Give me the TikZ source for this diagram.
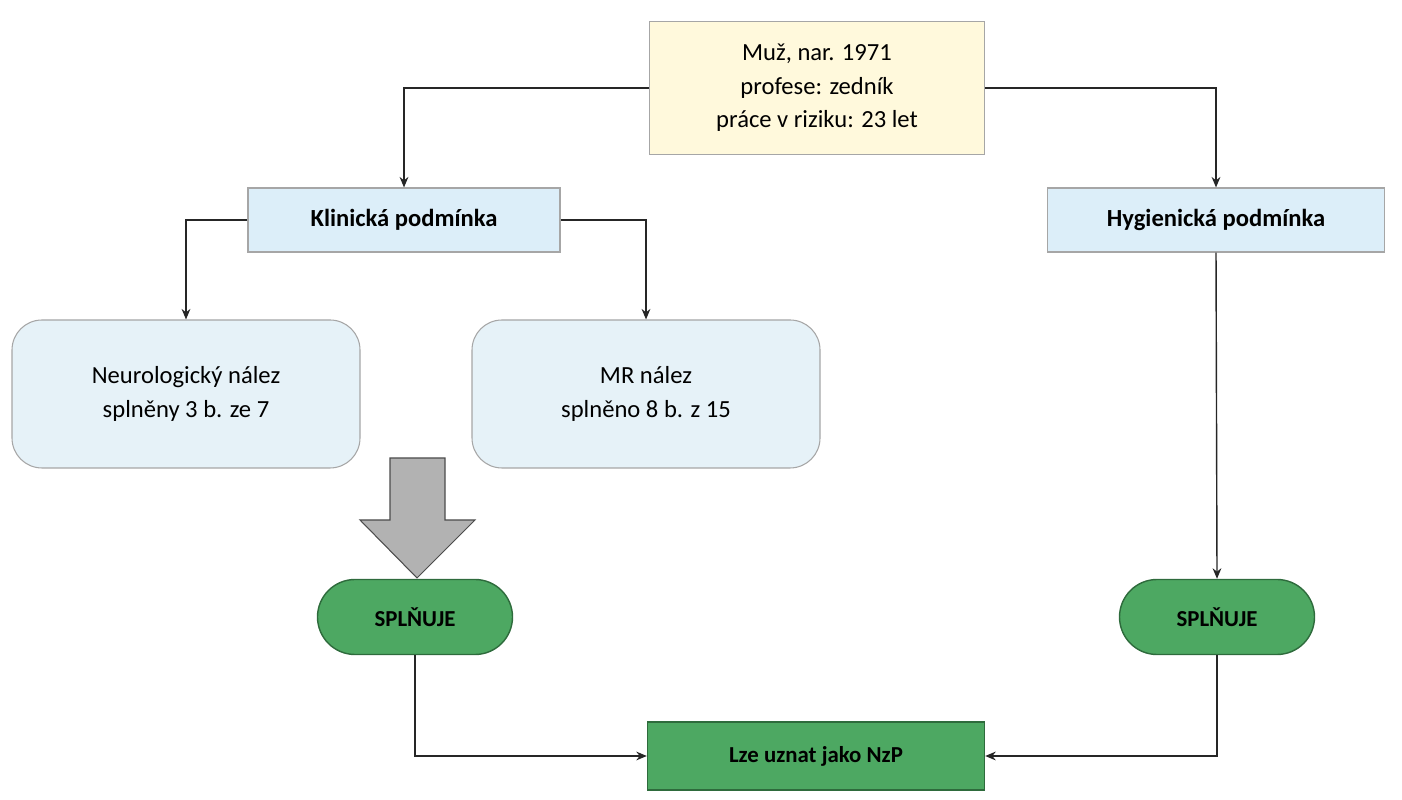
\documentclass[tikz,border=0pt]{standalone}
\usepackage{fontspec}
\setmainfont{Carlito}
\usetikzlibrary{arrows.meta}
\definecolor{topfill}{HTML}{FFF9DC}
\definecolor{bluefill}{HTML}{DCEEF9}
\definecolor{roundfill}{HTML}{E6F2F8}
\definecolor{greenfill}{HTML}{4DA862}
\definecolor{greenline}{HTML}{2E6B3C}
\begin{document}
\begin{tikzpicture}[
    font=\fontsize{14}{19}\selectfont,
    box/.style={draw=gray!70, line width=0.6pt, align=center, inner sep=0pt},
    info/.style={box, fill=bluefill, minimum height=1.28cm, font=\fontsize{14}{19}\selectfont\bfseries},
    finding/.style={box, fill=roundfill, rounded corners=0.6cm, minimum width=6.96cm, minimum height=2.96cm},
    ok/.style={draw=greenline, line width=0.8pt, fill=greenfill, rounded corners=0.75cm, minimum width=3.9cm, minimum height=1.5cm, font=\fontsize{13}{17}\selectfont\bfseries},
    link/.style={draw=gray!30!black, line width=0.8pt, -{Stealth[length=6pt,width=5pt]}}
]
\useasboundingbox (0,0) rectangle (28.04,16);
\node[box, fill=topfill, minimum width=6.7cm, minimum height=2.66cm] (patient) at (16.34,14.24)
    {Muž, nar. 1971\\profese: zedník\\práce v riziku: 23 let};
\node[info, minimum width=6.24cm] (clinic) at (8.08,11.6) {Klinická podmínka};
\node[info, minimum width=6.74cm] (hygiene) at (24.32,11.6) {Hygienická podmínka};
\node[finding] (neuro) at (3.72,8.12) {Neurologický nález\\splněny 3 b. ze 7};
\node[finding] (mr) at (12.92,8.12) {MR nález\\splněno 8 b. z 15};
\node[ok] (okclinic) at (8.3,3.66) {SPLŇUJE};
\node[ok] (okhygiene) at (24.34,3.66) {SPLŇUJE};
\node[draw=greenline, line width=0.8pt, fill=greenfill, minimum width=6.74cm, minimum height=1.36cm,
    font=\fontsize{13}{17}\selectfont\bfseries] (result) at (16.32,0.88) {Lze uznat jako NzP};

\draw[link] (patient.west) -| (clinic.north);
\draw[link] (patient.east) -| (hygiene.north);
\draw[link] (clinic.west) -| (neuro.north);
\draw[link] (clinic.east) -| (mr.north);
\draw[link] (hygiene.south) -- (okhygiene.north);
\draw[link] (okclinic.south) |- (result.west);
\draw[link] (okhygiene.south) |- (result.east);

% big arrow
\draw[draw=gray!60!black, fill=gray!60, line width=0.6pt]
    (7.8,6.84) -- (8.9,6.84) -- (8.9,5.6) -- (9.5,5.6) -- (8.34,4.44)
    -- (7.2,5.6) -- (7.8,5.6) -- cycle;
\end{tikzpicture}
\end{document}
